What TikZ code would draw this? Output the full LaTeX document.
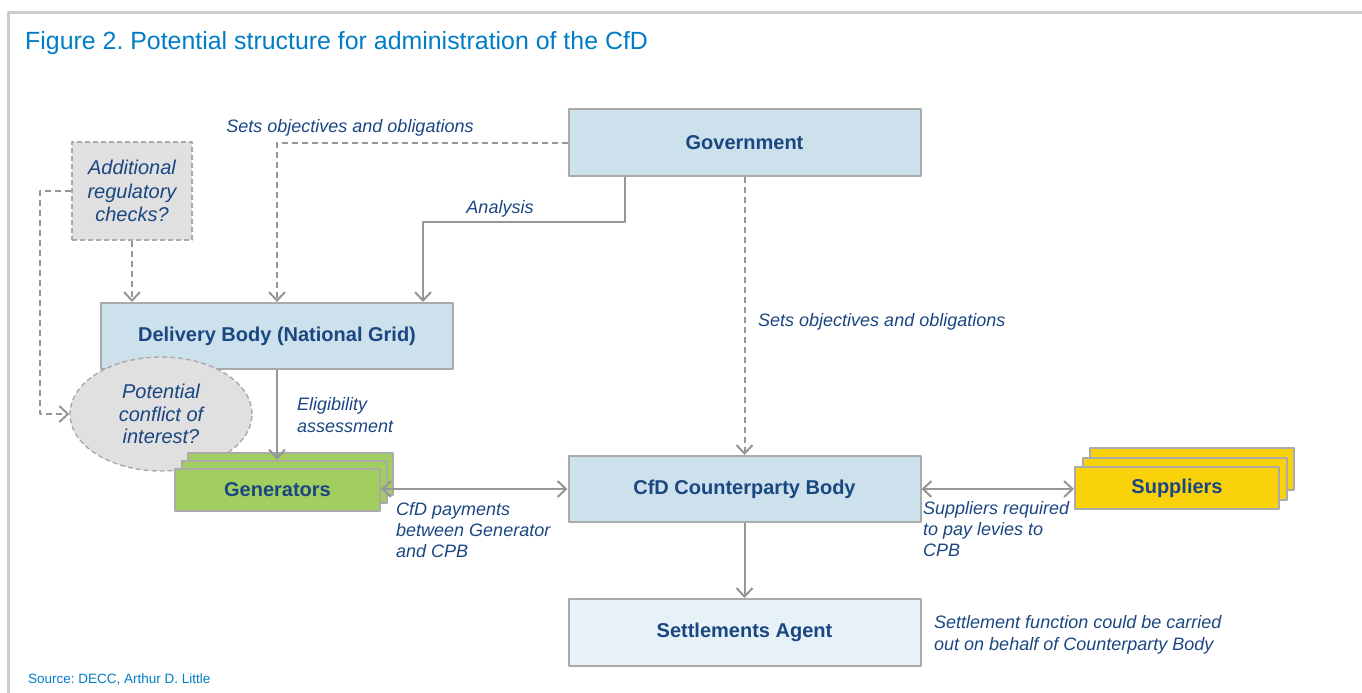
\documentclass[tikz,border=0pt]{standalone}
\usepackage{fontspec}
\setmainfont{Liberation Sans}
\usetikzlibrary{arrows.meta,shapes.geometric}

\definecolor{navy}{RGB}{26,70,130}
\definecolor{figblue}{RGB}{0,125,198}
\definecolor{boxblue}{RGB}{204,225,235}
\definecolor{paleblue}{RGB}{231,242,248}
\definecolor{boxgray}{RGB}{224,224,224}
\definecolor{gengreen}{RGB}{161,206,94}
\definecolor{supyellow}{RGB}{250,210,10}
\definecolor{edge}{RGB}{170,170,170}
\definecolor{link}{RGB}{150,150,150}

\tikzset{
	box/.style={draw=edge, line width=2pt, fill=boxblue, text=navy,
		font=\fontsize{20}{24}\selectfont\bfseries, inner sep=0pt},
	note/.style={text=navy, font=\fontsize{18}{21}\selectfont\itshape,
		align=left, inner sep=0pt},
	tip/.tip={Straight Barb[length=8.5pt,width=16pt,line width=2pt]},
	link/.style={draw=link, line width=2pt, -tip},
	both/.style={link, tip-tip},
	dlink/.style={link, dash pattern=on 6pt off 4pt},
}

\begin{document}
\frenchspacing
\begin{tikzpicture}[x=1pt, y=-1pt, line join=round]
	\useasboundingbox (0,0) rectangle (1362,693);
	% frame and captions
	\draw[draw=black!20, line width=3pt] (1362,13) -- (8,13) -- (8,693);
	\node[anchor=base west, inner sep=0pt, text=figblue, font=\fontsize{24.9}{28}\selectfont]
		(title) at (25,50) {Figure 2. Potential structure for administration of the CfD};
	\node[anchor=base west, inner sep=0pt, text=figblue, font=\fontsize{13.5}{16}\selectfont]
		(src) at (28,683) {Source: DECC, Arthur D. Little};

	% main bodies
	\node[box, minimum width=352pt, minimum height=67pt] (gov) at (744.5,142.5) {Government};
	\node[box, minimum width=352pt, minimum height=66pt] (deliv) at (277,336) {Delivery Body (National Grid)};
	\node[box, minimum width=352pt, minimum height=66pt] (cpb) at (744.5,489) {CfD Counterparty Body};
	\node[box, fill=paleblue, minimum width=352pt, minimum height=67pt] (sett) at (744.5,632.5) {Settlements Agent};

	% regulatory side
	\node[box, fill=boxgray, dash pattern=on 5pt off 3pt, line width=1.4pt, minimum width=120pt,
		minimum height=98pt, font=\fontsize{20}{23.5}\selectfont\itshape, align=center]
		(chk) at (132,191) {Additional\\regulatory\\checks?};
	\node[box, ellipse, fill=boxgray, dash pattern=on 5pt off 3pt, line width=1.4pt, minimum width=182pt,
		minimum height=114pt, font=\fontsize{20}{22.5}\selectfont\itshape, align=center]
		(confl) at (161,414) {Potential\\conflict of\\interest?};

	% stacked generators and suppliers
	\foreach \i in {2,1} {
		\node[box, fill=gengreen, minimum width=205pt, minimum height=42pt] (gen\i) at (277.5+6.5*\i,489.5-8*\i) {};
		\node[box, fill=supyellow, minimum width=204pt, minimum height=42pt] (sup\i) at (1177+7.5*\i,488-9.5*\i) {};
	}
	\node[box, fill=gengreen, minimum width=205pt, minimum height=42pt] (gen) at (277.5,489.5) {Generators};
	\node[box, fill=supyellow, minimum width=204pt, minimum height=42pt] (sup) at (1177,488) {Suppliers};

	% connectors
	\coordinate (a1) at (625,222);
	\coordinate (a2) at (423,0);
	\coordinate (c1) at (40,0);
	\draw[dlink] (gov.west) -| (deliv.north);
	\draw[link] (gov.south -| a1) -- (a1) -| (deliv.north -| a2);
	\draw[dlink] (gov.south) -- (cpb.north);
	\draw[dlink] (chk.south) -- (chk.south |- deliv.north);
	\draw[dlink] (chk.west) -- (chk.west -| c1) |- (confl.west);
	\draw[link] (deliv.south) -- (deliv.south |- gen1.north);
	\draw[both] (cpb.west -| gen.east) -- (cpb.west);
	\draw[both] (cpb.east) -- (cpb.east -| sup.west);
	\draw[link] (cpb.south) -- (sett.north);

	% labels on the links
	\node[note, anchor=base] (l1) at (350,132.5) {Sets objectives and obligations};
	\node[note, anchor=base] (l2) at (500,213) {Analysis};
	\node[note, anchor=base west] (l3) at (758,326) {Sets objectives and obligations};
	\node[note, anchor=north west, font=\fontsize{18}{22}\selectfont\itshape] (l4) at (297,397) {Eligibility\\assessment};
	\node[note, anchor=north west] (l5) at (396,502) {CfD payments\\between Generator\\and CPB};
	\node[note, anchor=north west] (l6) at (923,501) {Suppliers required\\to pay levies to\\CPB};
	\node[note, anchor=north west, font=\fontsize{18}{22}\selectfont\itshape] (l7) at (934,615) {Settlement function could be carried\\out on behalf of Counterparty Body};
\end{tikzpicture}
\end{document}
